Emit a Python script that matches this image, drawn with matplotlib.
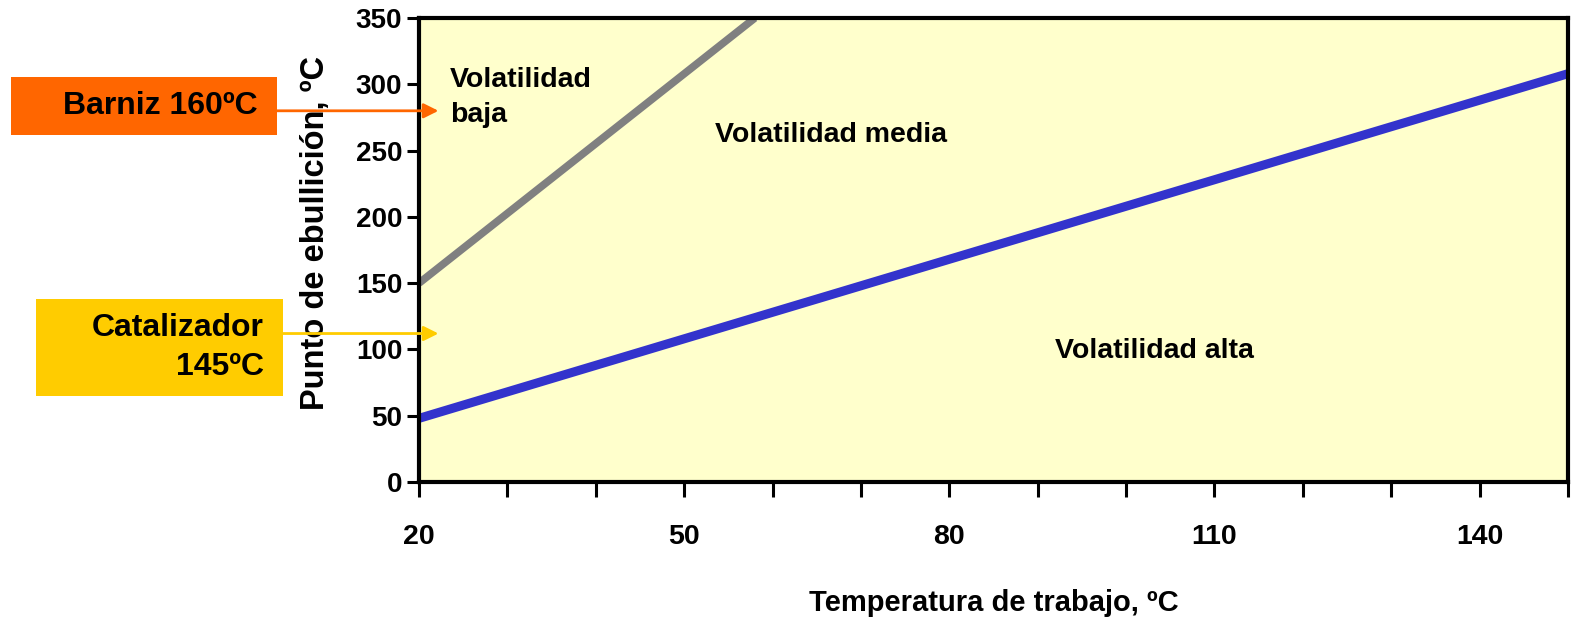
import matplotlib.pyplot as plt

# data
temp_ticks = [20, 50, 80, 110, 140]
temp_minor = [30, 40, 60, 70, 90, 100, 120, 130, 150]
boil_ticks = [0, 50, 100, 150, 200, 250, 300, 350]

low_x = [20, 58]        # gray border: volatilidad baja / media
low_y = [150, 350]
high_x = [20, 150]      # blue border: volatilidad media / alta
high_y = [48, 308]

markers = ["Barniz 160ºC", "Catalizador\n145ºC"]
marker_y = [280, 112]
marker_col = ["#FF6600", "#FFCC00"]

regions = ["Volatilidad\nbaja", "Volatilidad media", "Volatilidad alta"]
region_xy = [(23.5, 290), (53.5, 262), (92, 99)]

plt.rcParams['font.family'] = ['Liberation Sans', 'DejaVu Sans']
plt.rcParams['font.weight'] = 'bold'

fig = plt.figure(figsize=(15.79, 6.17), dpi=100)
ax = fig.add_axes([419 / 1579, 1 - 482 / 617, (1568 - 419) / 1579, (482 - 18) / 617])
ax.set_facecolor("#FFFFCC")

ax.plot(low_x, low_y, color="#808080", lw=5.5, solid_capstyle='butt')
ax.plot(high_x, high_y, color="#3333CC", lw=6.5, solid_capstyle='butt')

ax.set_xlim(20, 150)
ax.set_ylim(0, 350)
ax.set_xticks(temp_ticks)
ax.set_xticks(temp_minor, minor=True)
ax.set_yticks(boil_ticks)
ax.tick_params(axis='x', which='both', length=11, width=2.2, pad=19, labelsize=20.5)
ax.tick_params(axis='y', length=9, width=2.2, pad=3, labelsize=20)
for lab in ax.get_xticklabels() + ax.get_yticklabels():
    lab.set_fontweight('bold')
for sp in ax.spines.values():
    sp.set_linewidth(3)

ax.set_xlabel("Temperatura de trabajo, ºC", fontsize=21, fontweight='bold', labelpad=28)
ax.set_ylabel("Punto de ebullición, ºC", fontsize=23.5, fontweight='bold')
ax.yaxis.set_label_coords(-0.077, 0.537)

for txt, (x, y) in zip(regions, region_xy):
    ax.text(x, y, txt, fontsize=20.5, fontweight='bold', ha='left', va='center',
            linespacing=1.45)

# boxes on the left with arrows pointing at the axis
box_px = [(11, 77, 277, 135), (36, 299, 283, 396)]
for txt, y, col, (x0, y0, x1, y1) in zip(markers, marker_y, marker_col, box_px):
    fig.patches.append(plt.Rectangle((x0 / 1579, 1 - y1 / 617), (x1 - x0) / 1579,
                                     (y1 - y0) / 617, transform=fig.transFigure,
                                     facecolor=col, edgecolor='none'))
    fig.text((x1 - 19) / 1579, 1 - (y0 + y1) / 2 / 617, txt, fontsize=23,
             fontweight='bold', ha='right', va='center', multialignment='right',
             linespacing=1.35)
    ax.annotate("", xy=(22.2, y), xycoords='data',
                xytext=(x1 / 1579, y), textcoords=('figure fraction', 'data'),
                arrowprops=dict(arrowstyle='-|>', color=col, lw=2,
                                mutation_scale=22, shrinkA=0, shrinkB=0),
                annotation_clip=False)

fig.savefig("out.png", dpi=100)
